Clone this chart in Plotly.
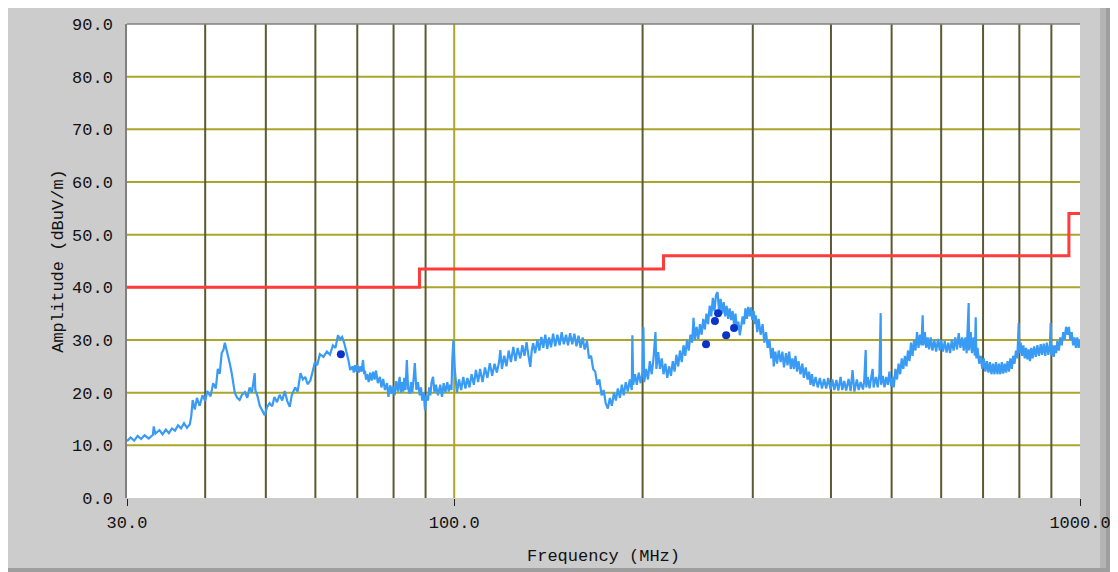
import plotly.graph_objects as go

# ---------------- data ----------------
# measured spectrum (peak scan), frequency in MHz / level in dBuV/m, in three bands
scan_freq_low = [
    30.0, 30.4, 30.8, 31.2, 31.6, 32.0, 32.5, 33.0, 33.1, 33.3,
    33.8, 34.2, 34.6, 35.0, 35.4, 35.8, 36.2, 36.6, 37.0, 37.4,
    37.8, 38.0, 38.2, 38.5, 38.8, 39.2, 39.6, 40.0, 40.3, 40.8,
    41.2, 41.6, 41.9, 42.2, 42.5, 42.8, 43.0, 43.2, 43.5, 43.8,
    44.1, 44.4, 44.6, 45.0, 45.4, 45.8, 46.3, 46.7, 47.1, 47.5,
    48.0, 48.1, 48.5, 48.9, 49.3, 49.8, 50.2, 50.7, 51.2, 51.6,
    52.1, 52.6, 53.1, 53.6, 54.1, 54.6, 55.0, 55.7, 56.2, 56.8,
    57.3, 57.8, 58.3, 58.9, 59.4, 59.9, 60.4, 61.0, 61.8, 62.6,
    63.3, 64.0, 64.6, 65.2, 65.7, 66.2, 66.8, 67.4, 67.8, 68.2,
    68.8, 69.1, 69.4, 69.7, 70.0, 70.4, 70.7, 71.1, 71.5, 71.8,
    72.0, 72.3, 72.6, 73.0, 73.4, 73.8, 74.2, 74.6, 75.0, 75.5,
    76.1, 76.5, 77.0, 77.5, 78.1, 78.5, 79.0, 79.4, 79.8, 80.3,
    80.8, 81.3, 81.8, 82.2, 82.5, 82.9, 83.2, 83.6, 84.0, 84.4,
    84.9, 85.3, 85.7, 86.1, 86.5, 87.0, 87.5, 88.1, 88.5, 88.9,
    89.4, 89.8, 90.3, 90.8, 91.2, 91.6, 92.0, 92.5, 93.0, 93.5,
    94.2, 95.0, 95.6, 96.2, 96.8, 97.5, 98.0, 98.5, 99.0, 99.3,
    99.7,
]
scan_level_low = [
    10.8, 11.5, 10.9, 11.8, 11.2, 11.9, 11.3, 12.0, 13.6, 12.2,
    12.9, 12.1, 13.0, 12.3, 13.2, 12.8, 13.8, 13.2, 14.2, 13.3,
    14.0, 15.5, 18.6, 16.8, 19.0, 17.5, 19.5, 18.4, 20.3, 19.3,
    21.8, 20.8, 24.5, 23.6, 27.5, 28.2, 29.5, 28.6, 27.3, 25.5,
    23.7, 21.5, 20.0, 19.0, 18.6, 19.6, 20.1, 19.0, 21.0, 20.0,
    23.7, 20.5, 19.3, 17.5, 16.6, 15.7, 17.2, 18.0, 17.4, 19.2,
    18.2, 19.6, 18.5, 20.3, 18.4, 17.3, 19.5, 21.0, 20.2, 23.7,
    22.5, 23.0, 21.6, 22.3, 24.0, 25.8, 25.2, 27.3, 26.8, 27.8,
    27.2, 29.0, 28.5, 30.9, 30.2, 30.6, 29.2, 27.5, 26.0, 24.3,
    25.0, 23.8, 25.2, 24.0, 25.3, 23.8, 25.0, 24.0, 26.2, 23.5,
    24.2, 22.5, 23.5, 22.0, 23.8, 22.3, 24.0, 22.5, 24.2, 21.8,
    23.0, 21.0, 22.6, 20.5, 21.8, 19.2, 21.4, 19.8, 21.2, 19.5,
    22.2, 20.2, 23.0, 20.0, 22.0, 20.2, 22.8, 20.5, 26.2, 20.8,
    19.8, 22.0, 20.0, 22.5, 25.6, 20.5, 22.0, 19.5, 21.0, 18.5,
    20.0, 16.7, 19.5, 18.5, 21.0, 19.5, 22.0, 23.0, 20.0, 21.5,
    19.5, 21.5, 19.2, 21.8, 20.0, 22.0, 20.2, 21.5, 20.5, 26.2,
    30.0,
]

scan_freq_mid = [
    100.2, 101.0, 101.8, 102.6, 103.4, 104.2, 105.0, 105.8, 106.6, 107.5,
    108.3, 109.2, 110.0, 111.0, 112.0, 113.0, 114.0, 115.0, 116.0, 117.0,
    118.0, 118.5, 119.2, 120.2, 121.2, 122.2, 123.2, 124.3, 125.3, 126.3,
    127.5, 128.5, 129.5, 130.5, 131.5, 132.3, 133.0, 133.7, 134.7, 135.8,
    136.8, 137.8, 138.8, 139.8, 140.8, 141.8, 142.8, 143.9, 145.0, 146.2,
    147.4, 148.5, 149.7, 150.9, 152.0, 153.2, 154.4, 155.6, 156.8, 158.0,
    159.2, 160.4, 161.6, 163.0, 164.2, 165.5, 166.7, 168.0, 169.3, 170.6,
    172.0, 173.3, 174.6, 176.0, 177.3, 178.6, 180.0, 181.3, 182.6, 184.0,
    185.3, 186.6, 188.0, 189.4, 190.8, 192.2, 192.6, 193.2, 194.5, 195.8,
    197.2, 198.6, 200.0, 200.6, 201.2, 202.6, 204.0, 205.4, 206.8, 208.2,
    209.7, 210.4, 211.8, 213.2, 214.6, 216.0, 217.5, 219.0, 220.5, 222.0,
    223.5, 225.0, 226.5, 228.0, 229.5, 231.0, 232.5, 234.0, 235.5, 237.0,
    238.5, 240.0, 241.2, 242.5, 244.0, 245.5, 247.0, 248.5, 250.0, 251.5,
    253.0, 254.5, 256.0, 257.5, 259.0, 260.5, 262.0, 263.5, 265.0, 266.5,
    268.0, 269.5, 271.0, 272.5, 274.0, 275.5, 277.0, 278.5, 280.0, 281.5,
    283.0, 284.5, 286.0, 287.5, 289.0, 290.5, 292.0, 293.5, 295.0, 296.5,
    298.0, 299.5, 301.0, 302.5,
]
scan_level_mid = [
    24.5, 20.0, 22.5, 20.5, 23.0, 20.8, 22.8, 21.0, 23.5, 21.5,
    24.3, 22.0, 24.5, 22.0, 24.8, 22.8, 25.6, 23.2, 25.5, 23.8,
    26.0, 28.1, 24.5, 27.0, 25.0, 28.0, 25.8, 28.7, 26.0, 28.5,
    26.5, 29.0, 27.0, 29.6, 26.8, 24.9, 28.0, 29.4, 27.5, 30.0,
    28.0, 30.6, 28.5, 31.0, 28.3, 30.5, 28.6, 31.2, 28.8, 31.0,
    29.0, 31.5, 29.2, 31.0, 29.0, 31.3, 29.2, 31.2, 28.8, 30.8,
    28.5, 30.5, 28.2, 29.8, 26.5, 27.0, 24.5, 24.0, 21.5, 22.5,
    19.5, 20.5, 18.0, 17.0, 19.0, 17.5, 20.0, 18.5, 20.8, 19.0,
    21.5, 19.5, 22.0, 20.2, 22.5, 20.5, 30.9, 21.5, 23.5, 21.5,
    23.8, 21.8, 24.0, 32.4, 22.0, 24.5, 22.5, 26.0, 23.5, 26.5,
    31.5, 24.5, 27.7, 24.5, 26.5, 23.5, 25.5, 22.8, 25.0, 23.2,
    26.0, 24.0, 27.2, 25.0, 28.0, 25.8, 29.0, 27.0, 30.0, 28.0,
    31.0, 29.5, 34.2, 30.0, 32.5, 30.2, 33.0, 31.0, 34.0, 32.0,
    35.0, 33.0, 36.5, 34.5, 38.0, 35.5, 38.5, 39.1, 35.5, 37.8,
    35.0, 37.2, 34.5, 36.5, 34.0, 36.0, 33.8, 35.5, 33.0, 35.0,
    32.0, 33.5, 30.9, 33.0, 34.5, 33.0, 36.0, 34.0, 36.3, 34.5,
    36.2, 33.8, 35.5, 33.0,
]

scan_freq_high = [
    303.2, 305.0, 306.5, 308.8, 311.0, 313.0, 315.0, 316.9, 319.0, 321.0,
    323.0, 324.0, 326.0, 328.0, 330.0, 332.4, 334.5, 336.5, 339.0, 340.9,
    343.0, 345.0, 347.0, 349.0, 351.0, 353.0, 355.0, 357.6, 360.0, 362.0,
    364.5, 367.0, 369.0, 371.0, 373.0, 375.1, 378.0, 381.0, 384.0, 387.0,
    390.0, 393.0, 396.0, 399.4, 402.0, 405.0, 408.0, 411.0, 414.4, 417.0,
    420.0, 423.0, 426.8, 430.0, 433.0, 436.0, 440.0, 443.0, 446.1, 450.0,
    452.0, 454.5, 455.5, 458.0, 461.0, 464.0, 466.3, 468.0, 472.0, 475.0,
    478.0, 480.3, 481.0, 484.0, 487.0, 490.0, 493.0, 496.0, 499.0, 502.0,
    504.0, 507.0, 510.0, 513.0, 516.0, 519.0, 522.0, 525.0, 528.0, 531.0,
    534.0, 537.0, 540.0, 543.0, 546.0, 549.0, 552.0, 555.0, 558.0, 560.5,
    562.0, 565.0, 568.0, 571.0, 574.0, 577.3, 581.0, 585.0, 589.0, 593.0,
    597.0, 600.0, 604.0, 608.0, 612.0, 616.0, 620.0, 624.0, 628.0, 632.0,
    636.0, 640.0, 644.0, 648.0, 652.0, 656.0, 659.0, 663.9, 665.0, 668.9,
    672.0, 676.0, 679.0, 681.3, 683.0, 686.0, 690.0, 694.0, 698.0, 702.0,
    706.0, 710.0, 714.0, 718.0, 722.0, 726.0, 730.0, 734.0, 738.0, 742.0,
    746.0, 750.0, 754.0, 758.0, 762.0, 766.0, 770.0, 774.0, 778.0, 782.0,
    786.0, 790.0, 794.0, 798.1, 800.0, 804.0, 808.0, 812.0, 816.0, 820.0,
    824.0, 828.0, 832.0, 836.0, 840.0, 845.0, 850.0, 855.0, 860.0, 865.4,
    870.0, 875.0, 880.0, 885.0, 890.0, 895.0, 897.8, 900.0, 904.0, 908.0,
    912.0, 916.0, 920.0, 925.0, 930.0, 935.0, 940.0, 945.0, 950.0, 955.7,
    960.0, 965.0, 970.0, 975.0, 980.0, 985.0, 990.0, 995.0, 1000.0,
]
scan_level_high = [
    34.7, 31.5, 34.0, 31.0, 33.0, 29.5, 31.5, 28.5, 30.0, 26.5,
    28.5, 25.0, 27.8, 25.5, 28.0, 25.8, 27.8, 24.8, 27.5, 25.2,
    27.8, 24.5, 26.5, 24.5, 27.0, 24.0, 26.0, 23.5, 25.5, 22.8,
    24.8, 22.5, 24.0, 21.5, 23.5, 21.2, 23.0, 21.0, 22.8, 20.8,
    22.6, 20.8, 22.8, 20.6, 22.5, 20.5, 22.4, 20.4, 23.0, 20.5,
    22.2, 20.4, 22.6, 20.3, 24.3, 20.2, 22.5, 20.5, 22.0, 20.6,
    22.2, 28.1, 21.0, 23.0, 20.8, 23.0, 24.5, 21.0, 23.0, 21.0,
    23.5, 35.1, 21.5, 23.2, 21.0, 23.0, 21.5, 24.0, 21.2, 23.0,
    21.0, 24.5, 22.5, 25.5, 23.5, 26.5, 24.5, 27.0, 25.0, 28.0,
    26.0, 29.5, 27.0, 30.0, 28.0, 31.5, 28.5, 31.0, 29.0, 34.7,
    29.0, 31.5, 28.5, 30.5, 28.2, 30.5, 28.0, 30.0, 27.8, 30.2,
    28.0, 30.0, 27.8, 29.8, 27.6, 29.5, 27.5, 30.0, 28.0, 30.5,
    28.2, 31.3, 28.5, 30.5, 28.0, 30.5, 27.5, 37.0, 28.0, 31.5,
    27.5, 30.5, 27.0, 34.3, 26.5, 28.5, 25.5, 27.0, 24.5, 26.5,
    24.0, 26.0, 23.8, 25.8, 23.5, 25.5, 23.5, 25.8, 23.5, 25.5,
    23.5, 25.8, 23.6, 25.5, 23.8, 26.0, 24.0, 26.5, 24.5, 27.0,
    25.5, 28.0, 26.5, 33.2, 27.5, 29.5, 27.0, 29.0, 26.5, 28.5,
    26.3, 28.2, 26.0, 28.5, 26.5, 28.8, 26.8, 29.0, 27.0, 29.2,
    27.2, 29.3, 27.0, 29.5, 27.2, 29.0, 33.2, 27.0, 29.0, 26.8,
    29.0, 27.5, 29.8, 28.0, 30.5, 29.0, 31.5, 30.0, 32.5, 31.0,
    32.5, 30.0, 31.5, 29.0, 30.5, 28.5, 30.5, 28.5, 30.0,
]

# quasi-peak final measurement points
qp_freq = [65.9, 252.6, 261.0, 264.0, 272.0, 280.0]
qp_level = [27.3, 29.2, 33.6, 35.1, 30.9, 32.3]

# limit line (class B, 3 m): band start frequencies and levels
limit_freq = [30.0, 88.0, 216.0, 960.0, 1000.0]
limit_level = [40.0, 43.5, 46.0, 54.0, 54.0]

# axes
x_tick_vals = [30, 100, 1000]
x_tick_text = ["30.0", "100.0", "1000.0"]
x_minor_grid = [40, 50, 60, 70, 80, 90, 200, 300, 400, 500, 600, 700, 800, 900]
x_major_grid = [100]
y_tick_vals = [0, 10, 20, 30, 40, 50, 60, 70, 80, 90]
y_tick_text = ["0.0", "10.0", "20.0", "30.0", "40.0", "50.0", "60.0", "70.0", "80.0", "90.0"]
y_grid = [10, 20, 30, 40, 50, 60, 70, 80]

scan_freq = scan_freq_low + scan_freq_mid + scan_freq_high
scan_level = scan_level_low + scan_level_mid + scan_level_high

# ---------------- styling ----------------
BG = "#cccccc"
GRID_Y = "#aba52c"
GRID_X_MINOR = "#5b5a32"
FONT = "Liberation Mono"

fig = go.Figure()

fig.add_trace(go.Scatter(
    x=scan_freq, y=scan_level, mode="lines",
    line=dict(color="#3a9bf5", width=2.2), hoverinfo="skip", showlegend=False))

fig.add_trace(go.Scatter(
    x=limit_freq, y=limit_level, mode="lines", line_shape="hv",
    line=dict(color="#ff3b3b", width=3), showlegend=False))

fig.add_trace(go.Scatter(
    x=qp_freq, y=qp_level, mode="markers",
    marker=dict(color="#0a33c8", size=8), showlegend=False))

shapes = []
for v in y_grid:
    shapes.append(dict(type="line", xref="paper", x0=0, x1=1, yref="y", y0=v, y1=v,
                       line=dict(color=GRID_Y, width=2), layer="below"))
for v in x_minor_grid:
    shapes.append(dict(type="line", xref="x", x0=v, x1=v, yref="paper", y0=0, y1=1,
                       line=dict(color=GRID_X_MINOR, width=2), layer="below"))
for v in x_major_grid:
    shapes.append(dict(type="line", xref="x", x0=v, x1=v, yref="paper", y0=0, y1=1,
                       line=dict(color=GRID_Y, width=2), layer="below"))
# plot frame (top edge)
shapes.append(dict(type="line", xref="paper", x0=0, x1=1, yref="paper", y0=1, y1=1,
                   line=dict(color="#808080", width=1.5)))
# window chrome around the graph
shapes.append(dict(type="rect", xref="paper", x0=1.0210, x1=1.0420, yref="paper", y0=-0.2, y1=1.1,
                   line=dict(width=0), fillcolor="#b4b4b4", layer="below"))
shapes.append(dict(type="rect", xref="paper", x0=1.0273, x1=1.0420, yref="paper", y0=-0.2, y1=1.1,
                   line=dict(width=0), fillcolor="#9e9e9e", layer="below"))
shapes.append(dict(type="rect", xref="paper", x0=-0.2, x1=1.05, yref="paper", y0=-0.1600, y1=-0.1477,
                   line=dict(width=0), fillcolor="#9e9e9e", layer="below"))

# the page body adds an 8 px offset, so the figure is 8 px smaller and margins shifted
fig.update_layout(
    width=1110, height=564,
    margin=dict(l=119, r=38, t=16, b=74, autoexpand=False),
    paper_bgcolor=BG, plot_bgcolor="white",
    font=dict(family=FONT, size=17, color="#111111"),
    shapes=shapes,
    showlegend=False,
)

fig.update_xaxes(
    type="log", range=[1.4771212547, 3.0], automargin=False,
    tickmode="array", tickvals=x_tick_vals, ticktext=x_tick_text,
    ticks="outside", ticklen=7, tickwidth=1, tickcolor="#222222",
    ticklabelstandoff=2,
    showgrid=False, zeroline=False, showline=False,
    title=dict(text="Frequency (MHz)", font=dict(family=FONT, size=17), standoff=16),
)
fig.update_yaxes(
    range=[0, 90], automargin=False,
    tickmode="array", tickvals=y_tick_vals, ticktext=y_tick_text,
    ticks="", ticklabelstandoff=9,
    showgrid=False, zeroline=False,
    showline=True, linecolor="#808080", linewidth=1.5,
    title=dict(text="Amplitude (dBuV/m)", font=dict(family=FONT, size=17), standoff=4),
)

fig.write_html("out.html")
